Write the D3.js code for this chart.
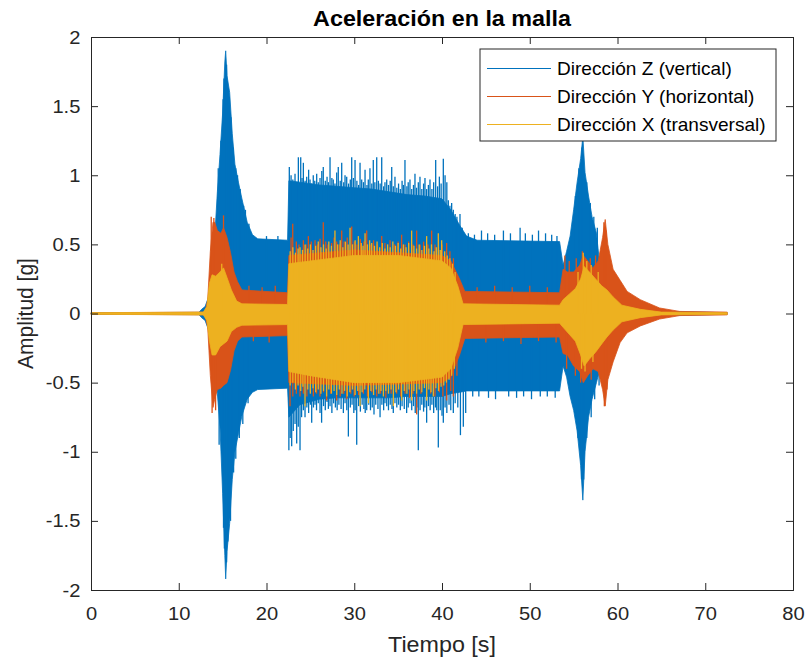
<!DOCTYPE html>
<html>
<head>
<meta charset="utf-8">
<script src="https://cdn.jsdelivr.net/npm/d3@7/dist/d3.min.js"></script>
<style>
  body { margin: 0; background: #fff; }
  text { font-family: "Liberation Sans", Arial, Helvetica, sans-serif; fill: #262626; }
</style>
</head>
<body>
<div class="chart"></div>
<script>
// envelopes: [tiempo, max, min]
var zEnv = [
  [0, 0.006, -0.006], [12.3, 0.008, -0.008], [12.6, 0.03, -0.03], [13.0, 0.05, -0.05],
  [13.4, 0.12, -0.12], [13.8, 0.3, -0.28], [14.1, 0.55, -0.45], [14.4, 0.88, -0.58],
  [14.7, 1.15, -0.82], [15.0, 1.45, -1.3], [15.25, 1.82, -1.75], [15.35, 1.9, -1.92],
  [15.5, 1.72, -1.72], [15.8, 1.6, -1.52], [16.1, 1.3, -1.2], [16.4, 1.08, -1.0],
  [16.8, 0.95, -0.87], [17.2, 0.83, -0.74], [17.8, 0.66, -0.62], [18.4, 0.57, -0.57],
  [19.0, 0.54, -0.55], [22.4, 0.53, -0.54], [22.55, 0.96, -0.75], [23.8, 0.95, -0.66],
  [26, 0.93, -0.62], [28, 0.92, -0.61], [30, 0.91, -0.61], [32, 0.9, -0.61],
  [34, 0.88, -0.61], [36, 0.86, -0.6], [38, 0.85, -0.6], [40, 0.83, -0.6],
  [41, 0.75, -0.58], [42, 0.64, -0.57], [42.8, 0.56, -0.56], [44, 0.53, -0.56],
  [53.4, 0.52, -0.56], [53.8, 0.35, -0.38], [54.2, 0.45, -0.46], [54.6, 0.56, -0.6],
  [55.0, 0.75, -0.7], [55.4, 0.95, -0.85], [55.8, 1.12, -1.1], [56.05, 1.28, -1.35],
  [56.3, 1.02, -1.0], [56.7, 0.85, -0.75], [57.1, 0.7, -0.62], [57.6, 0.58, -0.5],
  [58.0, 0.34, -0.4], [58.5, 0.22, -0.28], [59.0, 0.15, -0.18], [60.0, 0.09, -0.09],
  [61.0, 0.05, -0.05], [63.0, 0.02, -0.02], [72.5, 0.005, -0.005]
];
var yEnv = [
  [0, 0.005, -0.005], [13.0, 0.01, -0.01], [13.3, 0.1, -0.1], [13.6, 0.45, -0.45],
  [13.9, 0.66, -0.68], [14.1, 0.66, -0.62], [14.4, 0.6, -0.55], [14.8, 0.58, -0.54],
  [15.1, 0.62, -0.52], [15.5, 0.55, -0.5], [15.9, 0.44, -0.41], [16.3, 0.3, -0.27],
  [16.7, 0.23, -0.2], [17.2, 0.17, -0.17], [22.4, 0.15, -0.16], [22.55, 0.42, -0.5],
  [30, 0.46, -0.52], [40, 0.42, -0.5], [41, 0.38, -0.46], [42, 0.25, -0.3],
  [42.6, 0.16, -0.18], [53.4, 0.15, -0.17], [53.8, 0.32, -0.29], [54.3, 0.3, -0.3],
  [55.0, 0.3, -0.38], [55.7, 0.35, -0.42], [56.1, 0.42, -0.5], [56.6, 0.38, -0.45],
  [57.2, 0.33, -0.4], [57.8, 0.38, -0.42], [58.3, 0.55, -0.55], [58.6, 0.68, -0.67],
  [58.9, 0.5, -0.48], [59.5, 0.32, -0.35], [60.3, 0.24, -0.21], [61.1, 0.16, -0.14],
  [62.6, 0.1, -0.09], [64.8, 0.04, -0.04], [67.1, 0.015, -0.015], [72.5, 0.01, -0.01]
];
var xEnv = [
  [0, 0.006, -0.006], [12.8, 0.01, -0.01], [13.2, 0.05, -0.05], [13.5, 0.22, -0.2],
  [13.8, 0.28, -0.3], [14.2, 0.27, -0.3], [14.7, 0.3, -0.24], [15.1, 0.33, -0.22],
  [15.5, 0.26, -0.2], [16.0, 0.17, -0.13], [16.6, 0.09, -0.1], [17.2, 0.07, -0.085],
  [22.4, 0.065, -0.08], [22.55, 0.36, -0.42], [25, 0.38, -0.45], [30, 0.42, -0.5],
  [35, 0.42, -0.5], [40, 0.38, -0.46], [41, 0.33, -0.4], [41.8, 0.2, -0.25],
  [42.4, 0.07, -0.08], [53.4, 0.06, -0.07], [53.8, 0.1, -0.1], [54.5, 0.14, -0.15],
  [55.2, 0.18, -0.2], [55.8, 0.25, -0.3], [56.2, 0.34, -0.38], [56.8, 0.3, -0.33],
  [57.5, 0.25, -0.28], [58.2, 0.2, -0.22], [58.8, 0.17, -0.17], [59.5, 0.12, -0.12],
  [60.5, 0.06, -0.06], [62.6, 0.03, -0.03], [65, 0.01, -0.01], [72.5, 0.006, -0.006]
];

// picos sueltos: [tiempo, amplitud]
var zSpikes = [
  // pico de 15 s
  [14.5, 1.05], [14.8, 1.25], [15.05, 1.55], [15.15, 1.7], [15.45, 1.8], [15.65, 1.6],
  [15.75, 1.5], [15.95, 1.42], [16.2, 1.2], [16.5, 1.05], [16.7, 1.0], [17.0, 0.9],
  [17.4, 0.78], [17.6, 0.75], [18.0, 0.65], [20.0, 0.56], [21.3, 0.56],
  [14.6, -0.95], [15.1, -1.55], [15.2, -1.7], [15.45, -1.8], [15.6, -1.65], [15.9, -1.5],
  [16.25, -1.15], [16.5, -1.05], [16.9, -0.9], [17.3, -0.8], [17.9, -0.65],
  // tramo central, arriba
  [22.6, 1.06], [22.8, 1.0], [23.0, 0.97], [23.25, 1.01], [23.45, 0.95], [23.63, 1.13],
  [23.9, 1.13], [24.05, 0.98], [24.2, 1.09], [24.4, 0.96], [24.58, 0.99], [24.8, 1.04],
  [24.96, 0.97], [25.15, 0.94], [25.33, 1.0], [25.5, 0.96], [25.72, 1.01], [25.9, 0.95],
  [26.1, 0.98], [26.3, 1.03], [26.47, 1.06], [26.7, 0.96], [26.9, 0.99], [27.05, 0.95],
  [27.24, 1.13], [27.45, 0.98], [27.61, 0.97], [27.8, 0.94], [28.0, 1.02], [28.18, 1.06],
  [28.4, 0.96], [28.57, 1.09], [28.8, 0.95], [28.95, 1.0], [29.14, 0.99], [29.35, 0.94],
  [29.55, 0.97], [29.71, 1.13], [29.9, 0.98], [30.09, 1.11], [30.3, 0.96], [30.5, 0.93],
  [30.66, 1.09], [30.85, 0.97], [31.05, 0.95], [31.23, 1.04], [31.45, 0.93], [31.6, 0.97],
  [31.79, 1.05], [32.0, 0.94], [32.17, 1.11], [32.35, 0.95], [32.56, 1.13], [32.75, 0.96],
  [32.95, 0.94], [33.13, 1.13], [33.35, 0.92], [33.5, 0.95], [33.7, 0.97], [33.9, 0.93],
  [34.1, 0.96], [34.27, 1.06], [34.45, 0.92], [34.64, 0.99], [34.85, 0.91], [35.05, 0.94],
  [35.25, 0.9], [35.45, 0.96], [35.6, 0.93], [35.78, 1.11], [36.0, 0.92], [36.15, 0.95],
  [36.35, 0.97], [36.55, 0.9], [36.75, 0.93], [36.92, 1.01], [37.1, 0.91], [37.3, 0.95],
  [37.49, 0.99], [37.7, 0.9], [37.9, 0.94], [38.06, 0.98], [38.25, 0.9], [38.45, 0.93],
  [38.63, 0.97], [38.85, 0.9], [39.05, 0.95], [39.28, 1.11], [39.5, 0.92], [39.7, 0.99],
  [39.9, 0.94], [40.15, 1.12], [40.35, 1.0], [40.55, 0.95], [40.72, 0.82], [40.9, 0.78],
  [41.1, 0.8], [41.29, 0.75], [41.5, 0.72], [41.7, 0.7], [42.05, 0.72], [42.3, 0.62],
  // tramo central, abajo
  [22.55, -0.99], [22.7, -0.9], [22.87, -0.96], [23.05, -0.85], [23.25, -0.8], [23.44, -0.94],
  [23.62, -0.82], [23.82, -0.99], [24.0, -0.75], [24.2, -0.7], [24.39, -0.75], [24.6, -0.68],
  [24.8, -0.72], [25.0, -0.66], [25.15, -0.79], [25.35, -0.68], [25.53, -0.66], [25.7, -0.7],
  [25.9, -0.65], [26.1, -0.72], [26.28, -0.79], [26.5, -0.67], [26.7, -0.7], [26.9, -0.64],
  [27.05, -0.69], [27.24, -0.67], [27.45, -0.72], [27.65, -0.65], [27.85, -0.68], [28.05, -0.7],
  [28.25, -0.66], [28.5, -0.69], [28.76, -0.72], [28.95, -0.65], [29.15, -0.7], [29.33, -0.89],
  [29.55, -0.68], [29.75, -0.66], [29.95, -0.72], [30.1, -0.7], [30.28, -0.95], [30.5, -0.67],
  [30.7, -0.71], [30.9, -0.66], [31.1, -0.69], [31.25, -0.72], [31.42, -0.7], [31.65, -0.66],
  [31.85, -0.7], [32.05, -0.68], [32.25, -0.73], [32.45, -0.66], [32.7, -0.69], [32.94, -0.75],
  [33.15, -0.66], [33.35, -0.7], [33.5, -0.65], [33.7, -0.67], [33.9, -0.7], [34.1, -0.66],
  [34.3, -0.69], [34.45, -0.72], [34.64, -0.65], [34.85, -0.68], [35.05, -0.66], [35.25, -0.7],
  [35.45, -0.67], [35.7, -0.69], [35.97, -0.72], [36.15, -0.68], [36.35, -0.65], [36.55, -0.7],
  [36.75, -0.67], [36.95, -0.72], [37.15, -0.68], [37.3, -0.99], [37.5, -0.7], [37.7, -0.66],
  [37.9, -0.71], [38.05, -0.68], [38.25, -0.79], [38.45, -0.67], [38.65, -0.7], [38.85, -0.66],
  [39.05, -0.72], [39.25, -0.68], [39.4, -0.7], [39.58, -0.97], [39.8, -0.7], [40.0, -0.74],
  [40.15, -0.79], [40.35, -0.68], [40.55, -0.72], [40.8, -0.66], [41.0, -0.7], [41.29, -0.72],
  [41.5, -0.65], [41.8, -0.68], [42.1, -0.88], [42.43, -0.82], [42.7, -0.72],
  // tramo 42-53 s
  [43.0, 0.58], [43.7, 0.57], [44.5, 0.6], [45.2, 0.58], [46.0, 0.57], [47.0, 0.6],
  [47.8, 0.58], [48.9, 0.62], [49.5, 0.58], [50.3, 0.57], [51.0, 0.6], [51.8, 0.58],
  [52.5, 0.57], [53.1, 0.56],
  [43.5, -0.6], [44.2, -0.6], [45.3, -0.61], [46.1, -0.62], [47.6, -0.6], [48.5, -0.61],
  [49.3, -0.6], [50.2, -0.62], [51.2, -0.6], [52.0, -0.6], [52.9, -0.61],
  // pico de 56 s
  [55.2, 0.85], [55.6, 1.05], [55.95, 1.2], [56.5, 0.95], [56.9, 0.8], [57.3, 0.7],
  [57.7, 0.62], [58.2, 0.45],
  [55.5, -0.9], [55.9, -1.2], [56.15, -1.2], [56.5, -0.9], [57.0, -0.75], [57.4, -0.62],
  [57.9, -0.52]
];
var ySpikes = [
  [13.7, 0.7], [14.0, 0.69], [15.1, 0.71], [13.8, -0.72], [14.2, -0.7],
  [18.0, 0.2], [19.5, 0.19], [21.0, 0.2], [18.5, -0.2], [20.3, -0.21],
  [22.8, 0.55], [22.99, 0.65], [23.4, 0.52], [23.7, 0.5], [24.2, 0.53], [24.5, 0.5],
  [24.77, 0.56], [25.1, 0.52], [25.53, 0.53], [25.8, 0.5], [26.1, 0.54], [26.47, 0.66],
  [26.75, 0.52], [27.0, 0.5], [27.42, 0.51], [27.7, 0.55], [28.0, 0.52], [28.3, 0.5],
  [28.57, 0.6], [28.85, 0.52], [29.2, 0.55], [29.71, 0.63], [30.0, 0.52], [30.3, 0.5],
  [30.7, 0.54], [31.1, 0.52], [31.42, 0.6], [31.8, 0.5], [32.2, 0.53], [32.6, 0.5],
  [33.13, 0.56], [33.5, 0.51], [34.08, 0.53], [34.6, 0.5], [35.0, 0.52], [35.4, 0.57],
  [35.8, 0.5], [36.2, 0.52], [36.7, 0.5], [37.11, 0.6], [37.5, 0.5], [37.9, 0.52],
  [38.4, 0.5], [38.82, 0.6], [39.2, 0.5], [39.6, 0.48], [40.0, 0.5], [40.53, 0.51],
  [40.9, 0.45], [41.3, 0.4],
  [22.68, -0.67], [23.0, -0.6], [23.4, -0.58], [23.82, -0.6], [24.2, -0.58], [24.6, -0.6],
  [25.0, -0.57], [25.34, -0.6], [25.7, -0.58], [26.1, -0.6], [26.5, -0.57], [26.85, -0.63],
  [27.3, -0.58], [27.99, -0.63], [28.4, -0.6], [28.8, -0.58], [29.14, -0.62], [29.6, -0.58],
  [30.0, -0.6], [30.5, -0.59], [31.04, -0.58], [31.5, -0.6], [32.0, -0.57], [32.56, -0.6],
  [33.0, -0.58], [33.6, -0.61], [34.2, -0.58], [34.83, -0.58], [35.3, -0.6], [35.8, -0.58],
  [36.3, -0.61], [36.7, -0.58], [37.11, -0.73], [37.6, -0.58], [38.25, -0.6], [38.7, -0.58],
  [39.2, -0.6], [39.7, -0.57], [40.1, -0.6], [40.53, -0.63], [41.0, -0.56], [41.29, -0.6],
  [41.7, -0.45],
  [44.0, 0.19], [46.0, 0.2], [48.0, 0.19], [50.0, 0.2], [52.0, 0.19],
  [45.0, -0.21], [47.0, -0.2], [49.0, -0.22], [51.0, -0.2], [53.0, -0.21],
  [54.0, 0.42], [54.5, 0.38], [55.3, 0.4], [56.0, 0.45], [56.9, 0.4], [57.5, 0.42],
  [58.45, 0.66], [58.7, 0.6],
  [54.2, -0.4], [55.2, -0.45], [55.8, -0.5], [57.0, -0.48], [58.5, -0.67], [58.8, -0.55]
];
var xSpikes = [
  [14.9, 0.36],
  [22.7, 0.45], [23.0, 0.48], [23.3, 0.44], [23.6, 0.47], [23.82, 0.48], [24.1, 0.46],
  [24.4, 0.5], [24.7, 0.47], [25.0, 0.5], [25.3, 0.46], [25.6, 0.49], [25.9, 0.52],
  [26.2, 0.48], [26.5, 0.5], [26.8, 0.47], [27.1, 0.52], [27.4, 0.49], [27.8, 0.6],
  [28.1, 0.5], [28.4, 0.53], [28.7, 0.48], [29.0, 0.52], [29.3, 0.5], [29.52, 0.62],
  [29.8, 0.5], [30.1, 0.53], [30.47, 0.56], [30.8, 0.51], [31.0, 0.49], [31.23, 0.58],
  [31.5, 0.5], [31.75, 0.53], [31.99, 0.51], [32.3, 0.49], [32.6, 0.52], [32.9, 0.48],
  [33.2, 0.51], [33.5, 0.47], [33.8, 0.5], [34.1, 0.48], [34.4, 0.52], [34.7, 0.49],
  [35.0, 0.51], [35.3, 0.47], [35.6, 0.5], [35.9, 0.48], [36.2, 0.51], [36.54, 0.6],
  [36.8, 0.49], [37.1, 0.47], [37.4, 0.5], [37.7, 0.46], [38.0, 0.49], [38.25, 0.56],
  [38.5, 0.47], [38.8, 0.5], [39.1, 0.45], [39.35, 0.48], [39.58, 0.58], [39.8, 0.46],
  [39.96, 0.53], [40.3, 0.45], [40.6, 0.42], [40.9, 0.4], [41.2, 0.36], [41.5, 0.3],
  [22.7, -0.52], [23.0, -0.5], [23.3, -0.55], [23.6, -0.52], [23.9, -0.56], [24.15, -0.53],
  [24.39, -0.67], [24.7, -0.55], [25.0, -0.58], [25.3, -0.54], [25.6, -0.57], [25.9, -0.55],
  [26.2, -0.58], [26.5, -0.56], [26.85, -0.6], [27.1, -0.55], [27.4, -0.58], [27.7, -0.56],
  [28.0, -0.59], [28.3, -0.55], [28.6, -0.58], [28.9, -0.56], [29.2, -0.6], [29.5, -0.57],
  [29.8, -0.55], [30.1, -0.59], [30.4, -0.56], [30.66, -0.67], [30.9, -0.57], [31.2, -0.55],
  [31.61, -0.65], [31.9, -0.56], [32.2, -0.59], [32.5, -0.55], [32.8, -0.58], [33.05, -0.56],
  [33.32, -0.6], [33.6, -0.56], [33.9, -0.58], [34.2, -0.55], [34.46, -0.67], [34.75, -0.57],
  [35.05, -0.55], [35.4, -0.63], [35.7, -0.56], [36.0, -0.58], [36.25, -0.55], [36.54, -0.63],
  [36.8, -0.56], [37.1, -0.58], [37.4, -0.55], [37.7, -0.57], [38.0, -0.54], [38.25, -0.63],
  [38.5, -0.55], [38.75, -0.57], [39.01, -0.6], [39.3, -0.54], [39.6, -0.56], [39.9, -0.53],
  [40.2, -0.52], [40.5, -0.5], [40.8, -0.48], [41.1, -0.45], [41.4, -0.4],
  [55.5, 0.3], [56.1, 0.44], [56.5, 0.38], [57.0, 0.35], [57.8, 0.3],
  [55.9, -0.4], [56.3, -0.42], [57.2, -0.35]
];

var seriesNames = ["Dirección Z (vertical)", "Dirección Y (horizontal)", "Dirección X (transversal)"];
var seriesColors = ["#0072BD", "#D95319", "#EDB120"];
var xTicks = [0, 10, 20, 30, 40, 50, 60, 70, 80];
var yTicks = [-2, -1.5, -1, -0.5, 0, 0.5, 1, 1.5, 2];

var W = 808, H = 658;
var box = {left: 91, right: 793, top: 37, bottom: 590};
var sx = 1.06; // texto algo ensanchado como en la figura

var svg = d3.select(".chart").append("svg")
    .attr("width", W)
    .attr("height", H);

var x = d3.scaleLinear().domain([0, 80]).range([box.left, box.right]);
var y = d3.scaleLinear().domain([-2, 2]).range([box.bottom, box.top]);

var area = d3.area()
    .x(function(d) { return x(d[0]); })
    .y0(function(d) { return y(d[2]); })
    .y1(function(d) { return y(d[1]); });

var plot = svg.append("g");
var envs = [zEnv, yEnv, xEnv];
var spikes = [zSpikes, ySpikes, xSpikes];

envs.forEach(function(env, i) {
  plot.append("path")
      .datum(env)
      .attr("d", area)
      .attr("fill", seriesColors[i])
      .attr("stroke", seriesColors[i])
      .attr("stroke-width", 0.8);

  plot.append("g").selectAll("line")
      .data(spikes[i])
      .enter().append("line")
      .attr("x1", function(d) { return x(d[0]); })
      .attr("x2", function(d) { return x(d[0]); })
      .attr("y1", y(0))
      .attr("y2", function(d) { return y(d[1]); })
      .attr("stroke", seriesColors[i])
      .attr("stroke-width", 1.3);
});

// ejes estilo caja
var fmt = function(d) { return String(d); };

var gx = svg.append("g")
    .attr("transform", "translate(0," + box.bottom + ")")
    .call(d3.axisBottom(x).tickValues(xTicks).tickFormat(fmt).tickSize(-7).tickPadding(17));
var gxTop = svg.append("g")
    .attr("transform", "translate(0," + box.top + ")")
    .call(d3.axisTop(x).tickValues(xTicks).tickFormat("").tickSize(-7));
var gy = svg.append("g")
    .attr("transform", "translate(" + box.left + ",0)")
    .call(d3.axisLeft(y).tickValues(yTicks).tickFormat(fmt).tickSize(-7).tickPadding(10));
var gyRight = svg.append("g")
    .attr("transform", "translate(" + box.right + ",0)")
    .call(d3.axisRight(y).tickValues(yTicks).tickFormat("").tickSize(-7));

[gx, gxTop, gy, gyRight].forEach(function(g) {
  g.select(".domain").attr("stroke", "#262626").attr("stroke-width", 1);
  g.selectAll(".tick line").attr("stroke", "#262626").attr("stroke-width", 1);
  g.selectAll(".tick text")
      .attr("fill", "#262626")
      .style("font-size", "19px")
      .style("font-family", "'Liberation Sans', Arial, sans-serif")
      .attr("transform", "scale(" + sx + ",1)");
});
gx.selectAll(".tick text").attr("dy", "0.71em");

// titulo y etiquetas
svg.append("text")
    .attr("transform", "translate(" + (box.left + box.right) / 2 + ",26) scale(" + sx + ",1)")
    .attr("text-anchor", "middle")
    .style("font-size", "22px")
    .style("font-weight", "bold")
    .style("fill", "#000")
    .text("Aceleración en la malla");

svg.append("text")
    .attr("transform", "translate(" + (box.left + box.right) / 2 + ",652) scale(" + sx + ",1)")
    .attr("text-anchor", "middle")
    .style("font-size", "22px")
    .text("Tiempo [s]");

svg.append("text")
    .attr("transform", "translate(33," + (box.top + box.bottom) / 2 + ") scale(" + sx + ",1) rotate(-90)")
    .attr("text-anchor", "middle")
    .style("font-size", "21px")
    .text("Amplitud [g]");

// leyenda
var legend = svg.append("g").attr("transform", "translate(480,49)");
legend.append("rect")
    .attr("width", 296)
    .attr("height", 92)
    .attr("fill", "#fff")
    .attr("stroke", "#262626")
    .attr("stroke-width", 1);

var rows = legend.selectAll(".row")
    .data(seriesNames)
    .enter().append("g")
    .attr("class", "row")
    .attr("transform", function(d, i) { return "translate(0," + (19.5 + i * 28) + ")"; });

rows.append("line")
    .attr("x1", 7).attr("x2", 71)
    .attr("stroke", function(d, i) { return seriesColors[i]; })
    .attr("stroke-width", 1);

rows.append("text")
    .attr("transform", "translate(77,0) scale(" + sx + ",1)")
    .attr("dy", "0.35em")
    .style("font-size", "18px")
    .style("fill", "#000")
    .text(function(d) { return d; });
</script>
</body>
</html>
